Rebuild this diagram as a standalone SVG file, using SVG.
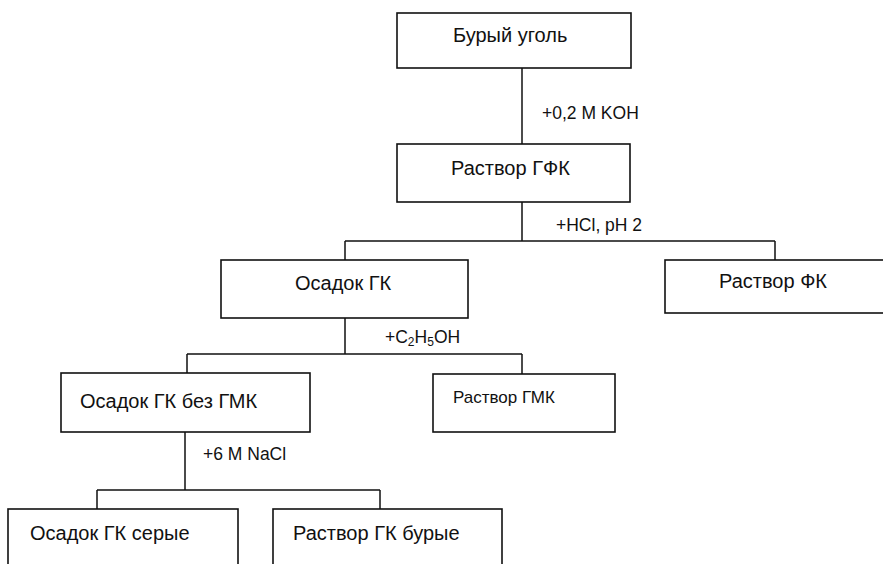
<svg xmlns="http://www.w3.org/2000/svg" width="883" height="564" viewBox="0 0 883 564">
<style>
.box{fill:#fff;stroke:#111;stroke-width:1.6}
.t{font-family:"Liberation Sans",Arial,sans-serif;font-size:20px;fill:#111}
.ts{font-family:"Liberation Sans",Arial,sans-serif;font-size:17px;fill:#111}
.lbl{font-family:"Liberation Sans",Arial,sans-serif;font-size:17.5px;fill:#111}
.c{fill:none;stroke:#111;stroke-width:1.5}
</style>
<rect width="883" height="564" fill="#fff"/>
<g id="connectors">
<path class="c" d="M522,68 V144"/>
<path class="c" d="M522,202 V241 M345,241 H775 M345,241 V260 M775,241 V260"/>
<path class="c" d="M345,318 V354 M187,354 H522 M187,354 V373 M522,354 V374"/>
<path class="c" d="M185,432 V490 M97,490 H380 M97,490 V509 M380,490 V509"/>
<text class="lbl" x="542" y="119">+0,2 M KOH</text>
<text class="lbl" x="556" y="231">+HCl, pH 2</text>
<text class="lbl" x="385" y="343">+C<tspan font-size="12" dy="3">2</tspan><tspan dy="-3">H</tspan><tspan font-size="12" dy="3">5</tspan><tspan dy="-3">OH</tspan></text>
<text class="lbl" x="203" y="460">+6 M NaCl</text>
</g>
<g id="n1"><rect class="box" x="397" y="13" width="234" height="55"/><text class="t" x="453" y="42">Бурый уголь</text></g>
<g id="n2"><rect class="box" x="397" y="144" width="233" height="58"/><text class="t" x="451" y="175">Раствор ГФК</text></g>
<g id="n3"><rect class="box" x="221" y="260" width="247" height="58"/><text class="t" x="295" y="290">Осадок ГК</text></g>
<g id="n4"><rect class="box" x="665" y="260" width="230" height="53"/><text class="t" x="719" y="288">Раствор ФК</text></g>
<g id="n5"><rect class="box" x="61" y="373" width="249" height="59"/><text class="t" x="80" y="408">Осадок ГК без ГМК</text></g>
<g id="n6"><rect class="box" x="433" y="374" width="182" height="58"/><text class="ts" x="453" y="403">Раствор ГМК</text></g>
<g id="n7"><rect class="box" x="8" y="509" width="230" height="70"/><text class="t" x="30" y="540">Осадок ГК серые</text></g>
<g id="n8"><rect class="box" x="273" y="509" width="229" height="70"/><text class="t" x="293" y="540">Раствор ГК бурые</text></g>
</svg>
